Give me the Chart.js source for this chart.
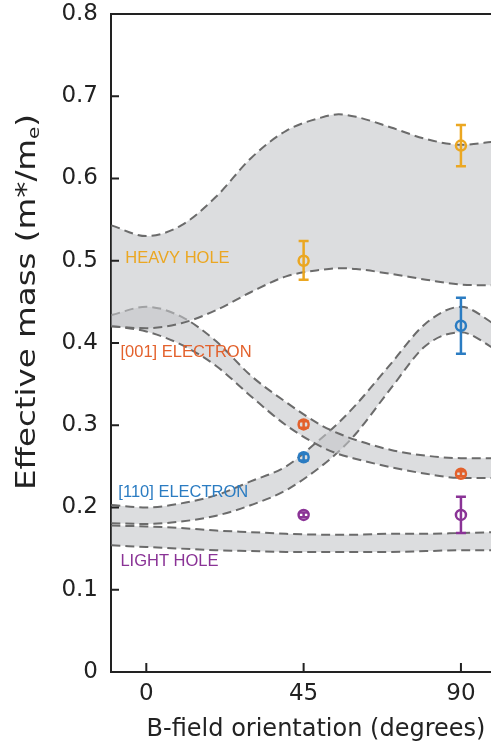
<!DOCTYPE html>
<html>
<head>
<meta charset="utf-8">
<script src="https://cdn.jsdelivr.net/npm/chart.js@4.4.1/dist/chart.umd.min.js"></script>
<style>
  html, body { margin: 0; padding: 0; background: #fff; }
  #wrap { width: 491px; height: 751px; }
</style>
</head>
<body>
<div id="wrap"><canvas id="chart"></canvas></div>
<script>
// band outlines (m*/me) sampled along the field angle
const bandDeg = [-10, 0, 10, 20, 30, 40, 50, 55, 60, 70, 80, 90, 100];
const heavyUpper = [0.543, 0.530, 0.543, 0.578, 0.625, 0.658, 0.674, 0.678, 0.675, 0.662, 0.648, 0.641, 0.645];
const heavyLower = [0.420, 0.418, 0.424, 0.440, 0.462, 0.481, 0.489, 0.491, 0.490, 0.484, 0.477, 0.471, 0.470];
const e001Upper = [0.434, 0.444, 0.432, 0.402, 0.360, 0.328, 0.300, 0.290, 0.282, 0.270, 0.263, 0.260, 0.260];
const e001Lower = [0.421, 0.414, 0.398, 0.372, 0.335, 0.300, 0.274, 0.265, 0.259, 0.249, 0.241, 0.236, 0.236];
const e110Upper = [0.203, 0.200, 0.205, 0.215, 0.232, 0.250, 0.284, 0.303, 0.325, 0.375, 0.424, 0.444, 0.422];
const e110Lower = [0.181, 0.180, 0.183, 0.190, 0.203, 0.221, 0.250, 0.268, 0.290, 0.345, 0.397, 0.413, 0.392];
const lightUpper = [0.178, 0.177, 0.175, 0.172, 0.170, 0.168, 0.167, 0.167, 0.167, 0.168, 0.168, 0.169, 0.170];
const lightLower = [0.154, 0.152, 0.150, 0.148, 0.147, 0.146, 0.146, 0.146, 0.146, 0.146, 0.147, 0.148, 0.148];

// measured points
const pointDeg = [45, 90];
const heavyPts = [0.500, 0.640];
const heavyLo = [0.477, 0.615];
const heavyHi = [0.524, 0.665];
const e001Pts = [0.301, 0.241];
const e001Lo = [0.297, 0.238];
const e001Hi = [0.305, 0.244];
const e110Pts = [0.261, 0.421];
const e110Lo = [0.257, 0.387];
const e110Hi = [0.265, 0.455];
const lightPts = [0.191, 0.191];
const lightLo = [0.188, 0.169];
const lightHi = [0.194, 0.213];

const xTicks = [0, 45, 90];

const colors = {
    heavy: '#eba722',
    e001: '#e3612c',
    e110: '#2b7cc2',
    light: '#8a3396'
};
const bandFill = 'rgba(196,198,201,0.6)';
const bandLine = '#6b6b6b';
const axisColor = '#222';
const font = 'DejaVu Sans';

function bandLineDs(values, fill) {
    return {
        type: 'line',
        data: bandDeg.map((x, i) => ({ x, y: values[i] })),
        borderColor: bandLine,
        borderWidth: 2,
        borderDash: [9, 5],
        pointRadius: 0,
        cubicInterpolationMode: 'monotone',
        fill: fill,
        backgroundColor: bandFill,
        order: 2
    };
}

function pointDs(values, lo, hi, color) {
    return {
        type: 'scatter',
        data: pointDeg.map((x, i) => ({ x, y: values[i] })),
        errLo: lo,
        errHi: hi,
        borderColor: color,
        backgroundColor: 'rgba(0,0,0,0)',
        pointRadius: 5,
        pointBorderWidth: 2.5,
        borderWidth: 2.5,
        order: 0
    };
}

const datasets = [];
[[heavyUpper, heavyLower], [e001Upper, e001Lower], [e110Upper, e110Lower], [lightUpper, lightLower]]
    .forEach(([up, low]) => {
        const iUp = datasets.length;
        datasets.push(bandLineDs(up, false));
        datasets.push(bandLineDs(low, iUp));
    });
datasets.push(pointDs(heavyPts, heavyLo, heavyHi, colors.heavy));
datasets.push(pointDs(e001Pts, e001Lo, e001Hi, colors.e001));
datasets.push(pointDs(e110Pts, e110Lo, e110Hi, colors.e110));
datasets.push(pointDs(lightPts, lightLo, lightHi, colors.light));

// band names, placed in data coordinates
const bandLabels = [
    { text: 'HEAVY HOLE', x: -6.0, y: 0.503, color: colors.heavy },
    { text: '[001] ELECTRON', x: -7.4, y: 0.389, color: colors.e001 },
    { text: '[110] ELECTRON', x: -8.0, y: 0.218, color: colors.e110 },
    { text: 'LIGHT HOLE', x: -7.4, y: 0.134, color: colors.light }
];

const decor = {
    id: 'decor',
    afterDatasetsDraw(chart) {
        const { ctx, scales: { x, y } } = chart;
        ctx.save();
        // error bars
        chart.data.datasets.forEach(ds => {
            if (!ds.errLo) return;
            ctx.strokeStyle = ds.borderColor;
            ctx.lineWidth = 2.5;
            ds.data.forEach((p, i) => {
                const px = x.getPixelForValue(p.x);
                const top = y.getPixelForValue(ds.errHi[i]);
                const bot = y.getPixelForValue(ds.errLo[i]);
                const cap = 5;
                ctx.beginPath();
                ctx.moveTo(px, top); ctx.lineTo(px, bot);
                ctx.moveTo(px - cap, top); ctx.lineTo(px + cap, top);
                ctx.moveTo(px - cap, bot); ctx.lineTo(px + cap, bot);
                ctx.stroke();
            });
        });
        ctx.restore();
    },
    afterDraw(chart) {
        const { ctx, chartArea: a, scales: { x, y } } = chart;
        ctx.save();
        // top frame line
        ctx.strokeStyle = axisColor;
        ctx.lineWidth = 2;
        ctx.beginPath();
        ctx.moveTo(a.left, y.top); ctx.lineTo(a.right, y.top);
        ctx.stroke();
        // inward ticks
        ctx.beginPath();
        y.ticks.forEach(t => {
            const py = y.getPixelForValue(t.value);
            ctx.moveTo(a.left, py); ctx.lineTo(a.left + 8, py);
        });
        x.ticks.forEach(t => {
            const px = x.getPixelForValue(t.value);
            ctx.moveTo(px, a.bottom); ctx.lineTo(px, a.bottom - 9);
        });
        ctx.stroke();

        // band names
        ctx.font = '16.5px "Liberation Sans"';
        ctx.textBaseline = 'middle';
        ctx.textAlign = 'left';
        bandLabels.forEach(l => {
            ctx.fillStyle = l.color;
            ctx.fillText(l.text, x.getPixelForValue(l.x), y.getPixelForValue(l.y));
        });

        // axis titles
        ctx.fillStyle = axisColor;
        ctx.font = '24px "' + font + '"';
        ctx.textAlign = 'center';
        ctx.textBaseline = 'middle';
        ctx.fillText('B-field orientation (degrees)', 316, 730);

        // y title, stretched along its length like the original figure
        ctx.translate(28, 302);
        ctx.rotate(-Math.PI / 2);
        const main = 'Effective mass (m*/m';
        const big = '26px "' + font + '"';
        const small = '16px "' + font + '"';
        ctx.font = big;
        const w1 = ctx.measureText(main).width;
        const w3 = ctx.measureText(')').width;
        ctx.font = small;
        const w2 = ctx.measureText('e').width;
        const total = w1 + w2 + w3;
        ctx.scale(376 / total, 1);
        const sx = -total / 2;
        ctx.textAlign = 'left';
        ctx.font = big;
        ctx.fillText(main, sx, 0);
        ctx.font = small;
        ctx.fillText('e', sx + w1, 7);
        ctx.font = big;
        ctx.fillText(')', sx + w1 + w2, 0);
        ctx.restore();
    }
};

new Chart(document.getElementById('chart'), {
    type: 'line',
    data: { datasets },
    options: {
        responsive: true,
        maintainAspectRatio: false,
        animation: false,
        layout: { autoPadding: false, padding: { top: 14, right: 0, bottom: 0, left: 0 } },
        plugins: {
            legend: { display: false },
            tooltip: { enabled: false }
        },
        scales: {
            x: {
                type: 'linear',
                min: -10.1,
                max: 98.6,
                afterBuildTicks: s => { s.ticks = xTicks.map(v => ({ value: v })); },
                afterFit: s => { s.height = 79; s.paddingLeft = 0; s.paddingRight = 0; },
                ticks: {
                    color: axisColor,
                    font: { family: font, size: 23 },
                    padding: 8,
                    maxRotation: 0,
                    callback: v => String(v)
                },
                grid: { display: true, drawOnChartArea: false, drawTicks: false },
                border: { display: true, color: axisColor, width: 2 }
            },
            y: {
                type: 'linear',
                min: 0,
                max: 0.8,
                afterFit: s => { s.width = 111; s.paddingTop = 0; s.paddingBottom = 0; },
                ticks: {
                    stepSize: 0.1,
                    color: axisColor,
                    font: { family: font, size: 23 },
                    padding: 13
                },
                grid: { display: true, drawOnChartArea: false, drawTicks: false },
                border: { display: true, color: axisColor, width: 2 }
            }
        }
    },
    plugins: [decor]
});
</script>
</body>
</html>
